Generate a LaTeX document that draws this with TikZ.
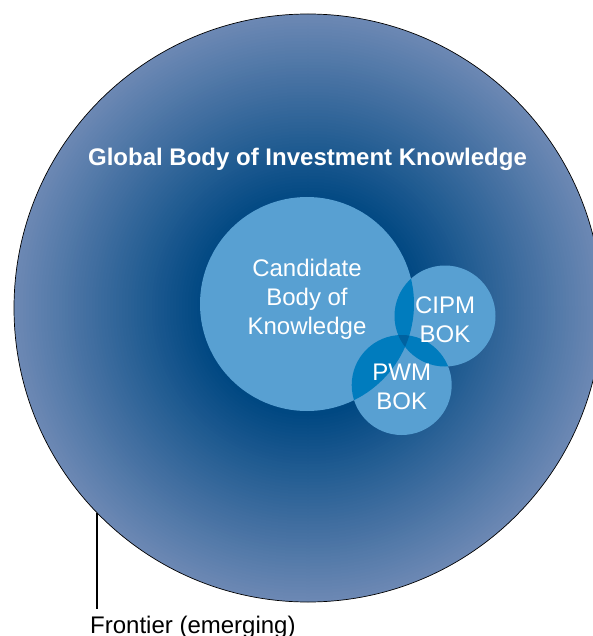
\documentclass[tikz,border=0pt]{standalone}
\usepackage{fontspec}
\setmainfont{Liberation Sans}

\definecolor{gbdark}{RGB}{0,72,130}
\definecolor{gbedge}{RGB}{108,136,180}
\definecolor{bokfill}{RGB}{88,160,210}
\definecolor{bokpair}{RGB}{0,124,190}
\definecolor{boktriple}{RGB}{0,98,160}

\begin{document}
\begin{tikzpicture}[x=1pt, y=-1pt,
  title/.style={text=white, font=\bfseries\fontsize{24}{29}\selectfont, inner sep=0, anchor=base},
  bok/.style={text=white, font=\fontsize{24}{29}\selectfont, align=center, inner sep=0, anchor=north},
  note/.style={text=black, font=\fontsize{24}{29}\selectfont, inner sep=0, anchor=base west}]

\useasboundingbox (0,0) rectangle (593,636);
\clip (0,0) rectangle (593,636);

\def\Xg{308}
\def\Yg{308}
\def\Rg{294}
\def\Rd{108}

\def\Xc{307}
\def\Yc{304}
\def\Rc{107}

\def\Xi{445}
\def\Yi{316}
\def\Ri{50.5}

\def\Xp{401.7}
\def\Yp{385}
\def\Rp{50}

%%% global body, lighter towards the frontier
\foreach \i in {0,...,62} {
  \pgfmathsetmacro\Rr{\Rg-\i*(\Rg-\Rd)/62}
  \pgfmathsetmacro\Tt{100*\i/62}
  \fill[gbdark!\Tt!gbedge] (\Xg,\Yg) circle (\Rr);
}
\draw[line width=0.7pt] (\Xg,\Yg) circle (\Rg);

\fill[bokfill] (\Xc,\Yc) circle (\Rc);
\fill[bokfill] (\Xi,\Yi) circle (\Ri);
\fill[bokfill] (\Xp,\Yp) circle (\Rp);

\begin{scope}
\clip (\Xc,\Yc) circle (\Rc);
\fill[bokpair] (\Xi,\Yi) circle (\Ri);
\fill[bokpair] (\Xp,\Yp) circle (\Rp);
\end{scope}

\begin{scope}
\clip (\Xi,\Yi) circle (\Ri);
\fill[bokpair] (\Xp,\Yp) circle (\Rp);
\clip (\Xc,\Yc) circle (\Rc);
\fill[boktriple] (\Xp,\Yp) circle (\Rp);
\end{scope}

\node[title] (gbik) at (307.5,165.5) {Global Body of Investment Knowledge};
\node[bok] (cbok) at (307,259) {Candidate\\Body of\\Knowledge};
\node[bok] (cipm) at (445,297) {CIPM\\BOK};
\node[bok] (pwm) at (401.7,364) {PWM\\BOK};

\node[note] (frontier) at (90,633) {Frontier (emerging)};
\coordinate (rim) at (97,513);
\draw[line width=1.4pt, shorten >=6pt] (rim) -- (rim |- frontier.north);

\end{tikzpicture}
\end{document}
